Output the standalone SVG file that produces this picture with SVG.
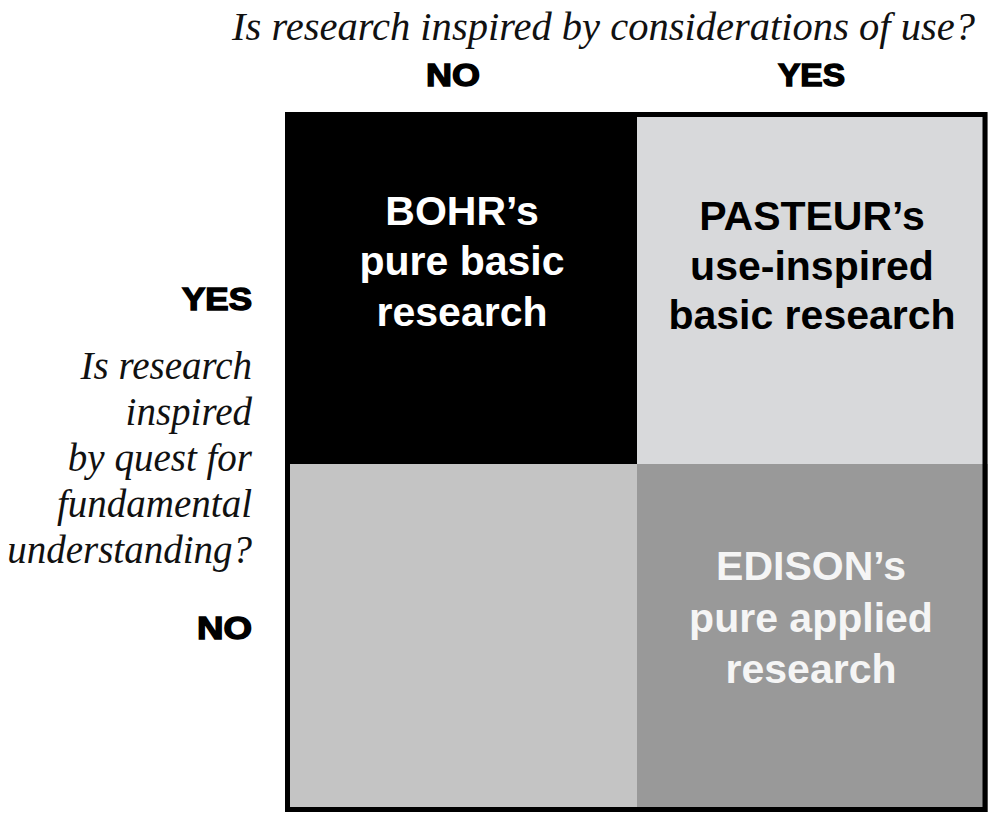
<svg xmlns="http://www.w3.org/2000/svg" width="988" height="813" viewBox="0 0 988 813">
  <style>
    .q { font-family: "Liberation Serif", "Times New Roman", serif; font-style: italic; font-size: 39px; fill: #111; }
    .yn { font-family: "Liberation Sans", Arial, sans-serif; font-weight: bold; font-size: 31px; fill: #000; stroke: #000; stroke-width: 1.4; }
    .cell { font-family: "Liberation Sans", Arial, sans-serif; font-weight: bold; font-size: 41px; text-anchor: middle; }
  </style>
  <rect width="988" height="813" fill="#ffffff"/>

  <!-- axis questions and answers -->
  <g id="axis-top">
    <text class="q" x="232" y="40" textLength="743" lengthAdjust="spacingAndGlyphs">Is research inspired by considerations of use?</text>
    <text class="yn" x="426" y="86" textLength="54" lengthAdjust="spacingAndGlyphs">NO</text>
    <text class="yn" x="778" y="86" textLength="67" lengthAdjust="spacingAndGlyphs">YES</text>
  </g>
  <g id="axis-left" text-anchor="end">
    <text class="yn" x="252" y="310" textLength="70" lengthAdjust="spacingAndGlyphs">YES</text>
    <text class="q" x="252" y="379">Is research</text>
    <text class="q" x="252" y="425">inspired</text>
    <text class="q" x="252" y="471">by quest for</text>
    <text class="q" x="252" y="517">fundamental</text>
    <text class="q" x="252" y="563">understanding?</text>
    <text class="yn" x="252" y="639" textLength="55" lengthAdjust="spacingAndGlyphs">NO</text>
  </g>

  <!-- quadrants -->
  <g id="bohr">
    <rect x="285" y="112" width="352" height="352" fill="#000000"/>
    <text class="cell" fill="#ffffff" x="462" y="225">BOHR’s</text>
    <text class="cell" fill="#ffffff" x="462" y="275">pure basic</text>
    <text class="cell" fill="#ffffff" x="462" y="326">research</text>
  </g>
  <g id="pasteur">
    <rect x="637" y="112" width="351" height="352" fill="#d8d9db"/>
    <text class="cell" fill="#000000" x="812" y="230">PASTEUR’s</text>
    <text class="cell" fill="#000000" x="812" y="280">use-inspired</text>
    <text class="cell" fill="#000000" x="812" y="329">basic research</text>
  </g>
  <g id="empty">
    <rect x="285" y="464" width="352" height="348" fill="#c4c4c4"/>
  </g>
  <g id="edison">
    <rect x="637" y="464" width="351" height="348" fill="#999999"/>
    <text class="cell" fill="#f5f5f5" x="811" y="580">EDISON’s</text>
    <text class="cell" fill="#f5f5f5" x="811" y="632">pure applied</text>
    <text class="cell" fill="#f5f5f5" x="811" y="683">research</text>
  </g>

  <!-- outer frame -->
  <g id="frame">
    <rect x="287.5" y="114.5" width="697.5" height="695" fill="none" stroke="#000" stroke-width="5"/>
  </g>
</svg>
